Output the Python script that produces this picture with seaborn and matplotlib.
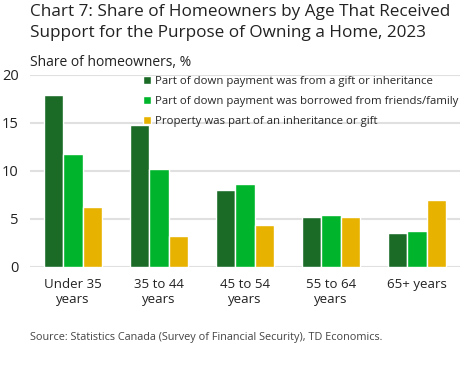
import pandas as pd
import seaborn as sns
import matplotlib.pyplot as plt

ages = ["Under 35\nyears", "35 to 44\nyears", "45 to 54\nyears", "55 to 64\nyears", "65+ years"]
gift = [17.9, 14.8, 8.0, 5.2, 3.5]
borrowed = [11.8, 10.2, 8.6, 5.4, 3.7]
inherited = [6.2, 3.2, 4.4, 5.2, 7.0]

series = ["Part of down payment was from a gift or inheritance",
          "Part of down payment was borrowed from friends/family",
          "Property was part of an inheritance or gift"]
colors = ["#1b6b27", "#00b52b", "#e8b300"]

rows = []
for name, vals in zip(series, [gift, borrowed, inherited]):
    for age, v in zip(ages, vals):
        rows.append({"age": age, "type": name, "share": v})
df = pd.DataFrame(rows)

sns.set_style("white")
plt.rcParams["font.family"] = ["Open Sans", "DejaVu Sans"]

fig = plt.figure(figsize=(4.73, 3.72), dpi=100)
ax = fig.add_axes([30 / 473, 1 - 267 / 372, 430 / 473, 192 / 372])

sns.barplot(data=df, x="age", y="share", hue="type", palette=colors, saturation=1,
            width=0.68, edgecolor="white", linewidth=1, ax=ax, zorder=3)

ax.set_ylim(0, 20)
ax.set_xlim(-0.5, 4.5)
ax.set_yticks([0, 5, 10, 15, 20])
ax.yaxis.grid(True, color="#e0e0e0", linewidth=1.5, zorder=0)
ax.set_axisbelow(True)
for s in ax.spines.values():
    s.set_visible(False)
ax.set_xlabel("")
ax.set_ylabel("")
ax.tick_params(axis="y", labelsize=10.5, colors="#222222", pad=8, length=0)
ax.tick_params(axis="x", labelsize=9.5, colors="#222222", pad=8, length=0)

ax.legend(loc="upper left", bbox_to_anchor=(0.25, 1.025), frameon=False,
          fontsize=8.2, handlelength=0.7, handleheight=0.7, handletextpad=0.3,
          labelspacing=0.78, borderaxespad=0.1)

fig.text(30 / 473, 1 - 4 / 372, "Chart 7: Share of Homeowners by Age That Received\nSupport for the Purpose of Owning a Home, 2023",
         fontsize=12.3, va="top", ha="left", color="#222222", linespacing=1.45)
fig.text(30 / 473, 1 - 55 / 372, "Share of homeowners, %", fontsize=10,
         va="top", ha="left", color="#222222")
fig.text(30 / 473, 1 - 332 / 372, "Source: Statistics Canada (Survey of Financial Security), TD Economics.",
         fontsize=7.8, va="top", ha="left", color="#444444")

fig.savefig("out.png", dpi=100)
